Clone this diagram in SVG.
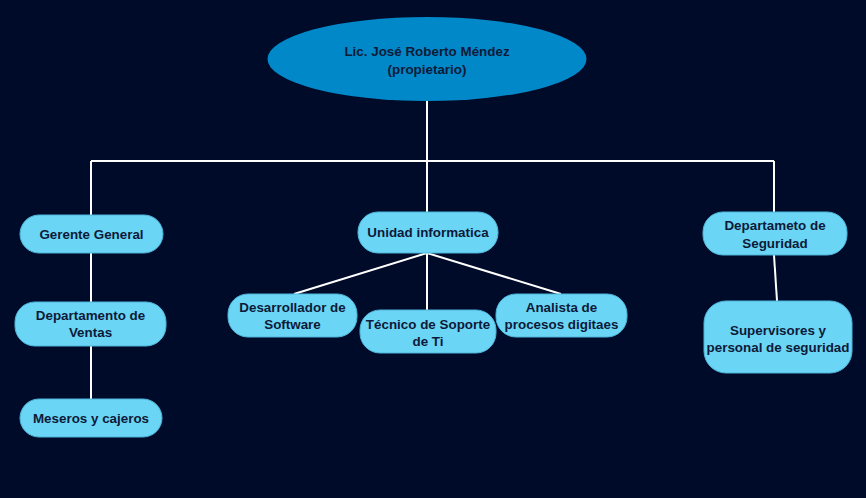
<svg xmlns="http://www.w3.org/2000/svg" width="866" height="498" viewBox="0 0 866 498">
<style>
.n{fill:#6ad5f5;stroke:#4fb4d8;stroke-width:1}
.t{font-family:"Liberation Sans",Arial,sans-serif;font-weight:bold;font-size:13.4px;fill:#0e1a38;text-anchor:middle}
.c{stroke:#ffffff;stroke-width:2;fill:none}
</style>
<rect width="866" height="498" fill="#000b29"/>
<g id="connectors">
<path class="c" d="M427 101V161M91 161H774M91 161V215M427 161V212M774 161V212"/>
<path class="c" d="M91 253V302M91 346V399"/>
<path class="c" d="M427 253L294 294M427 253V310M427 253L561 294"/>
<path class="c" d="M774 255L777 301"/>
</g>
<g id="owner">
<ellipse cx="427" cy="59" rx="159.5" ry="42" fill="#0088c8"/>
<text class="t" x="427" y="56">Lic. José Roberto Méndez</text>
<text class="t" x="427" y="74">(propietario)</text>
</g>
<g id="gerente">
<rect class="n" x="20" y="215" width="143" height="38" rx="19"/>
<text class="t" x="91.5" y="239">Gerente General</text>
</g>
<g id="ventas">
<rect class="n" x="15" y="302" width="151" height="44" rx="20"/>
<text class="t" x="90.5" y="320">Departamento de</text>
<text class="t" x="90.5" y="337">Ventas</text>
</g>
<g id="meseros">
<rect class="n" x="20" y="399" width="142" height="38" rx="19"/>
<text class="t" x="91" y="423">Meseros y cajeros</text>
</g>
<g id="unidad">
<rect class="n" x="358" y="212" width="140" height="41" rx="20"/>
<text class="t" x="428" y="237">Unidad informatica</text>
</g>
<g id="desarrollador">
<rect class="n" x="228" y="294" width="129" height="43" rx="20"/>
<text class="t" x="292.5" y="312">Desarrollador de</text>
<text class="t" x="292.5" y="329">Software</text>
</g>
<g id="tecnico">
<rect class="n" x="360" y="310" width="136" height="43" rx="20"/>
<text class="t" x="428" y="329">Técnico de Soporte</text>
<text class="t" x="428" y="346">de Ti</text>
</g>
<g id="analista">
<rect class="n" x="496" y="294" width="131" height="43" rx="20"/>
<text class="t" x="561.5" y="312">Analista de</text>
<text class="t" x="561.5" y="329">procesos digitaes</text>
</g>
<g id="seguridad">
<rect class="n" x="703" y="212" width="144" height="43" rx="20"/>
<text class="t" x="775" y="230">Departameto de</text>
<text class="t" x="775" y="248">Seguridad</text>
</g>
<g id="supervisores">
<rect class="n" x="704" y="301" width="148" height="72" rx="22"/>
<text class="t" x="778" y="335">Supervisores y</text>
<text class="t" x="778" y="352">personal de seguridad</text>
</g>
</svg>
